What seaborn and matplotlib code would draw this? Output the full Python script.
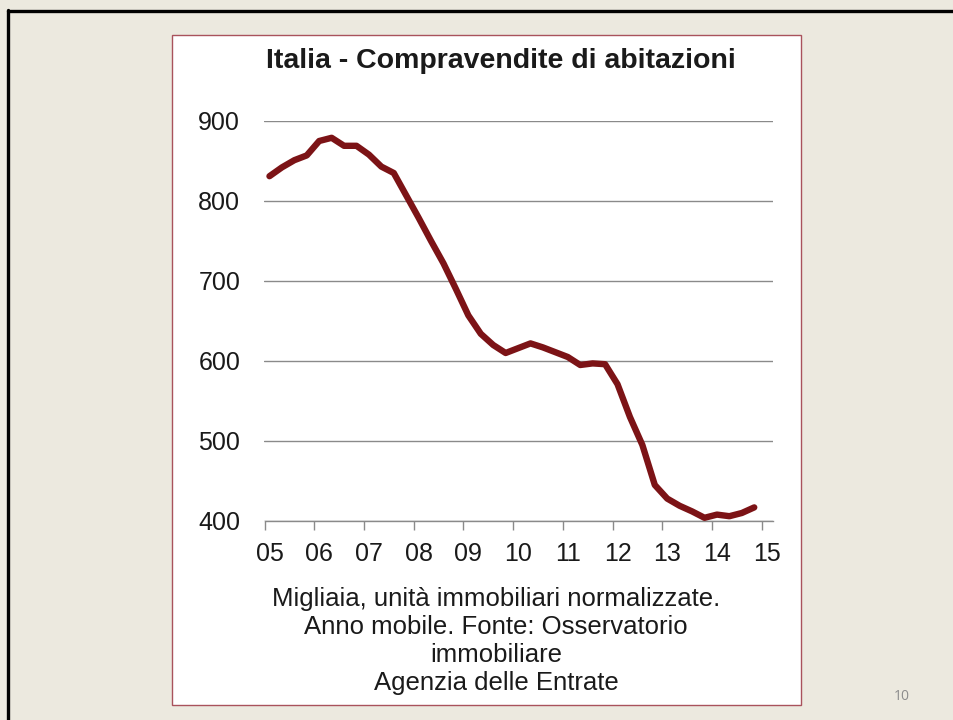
import matplotlib
matplotlib.use("Agg")
import pandas as pd
import matplotlib.pyplot as plt
import matplotlib.patches as patches
import matplotlib.lines as mlines
import seaborn as sns

# ----------------- Dati -----------------
trimestri = pd.period_range("2005Q1", "2014Q4", freq="Q")
compravendite = [831, 842, 851, 857, 875, 879, 869, 869, 858, 843,
                 835, 807, 779, 750, 722, 690, 657, 634, 620, 610,
                 616, 622, 617, 611, 605, 595, 597, 596, 571, 530,
                 495, 445, 428, 419, 412, 404, 408, 406, 410, 417]
anni_tick = list(range(2005, 2016))
valori_y = [400, 500, 600, 700, 800, 900]
titolo = "Italia - Compravendite di abitazioni"
nota = ["Migliaia, unità immobiliari normalizzate.",
        "Anno mobile. Fonte: Osservatorio",
        "immobiliare",
        "Agenzia delle Entrate"]
numero_pagina = "10"

# ----------------- Stile -----------------
sns.set_style("white")
plt.rcParams["font.family"] = ["Liberation Sans", "DejaVu Sans"]

W, H = 954, 720
SFONDO = "#ECE9DF"
ROSSO = "#7C1316"
GRIGIO = "#8A8A8A"

fig = plt.figure(figsize=(W / 100, H / 100), dpi=100, facecolor=SFONDO)

# bordo della slide (nero, in alto e a sinistra)
fig.add_artist(mlines.Line2D([8 / W, 1], [1 - 10.5 / H, 1 - 10.5 / H], color="black", lw=2.4,
                             transform=fig.transFigure, zorder=-2))
fig.add_artist(mlines.Line2D([8.5 / W, 8.5 / W], [1 - 10 / H, 0], color="black", lw=2.4,
                             transform=fig.transFigure, zorder=-2))

# pannello bianco del grafico
fig.add_artist(patches.Rectangle((172 / W, 1 - 705 / H), (801 - 172) / W, (705 - 35) / H,
                                 transform=fig.transFigure, facecolor="white",
                                 edgecolor="#A9525C", lw=1.0, zorder=-1))

# ----------------- Grafico -----------------
x0, x15, xr = 264.5, 761.7, 773
ax = fig.add_axes([x0 / W, 1 - 521 / H, (xr - x0) / W, 400 / H])
ax.set_facecolor("none")
ax.set_zorder(1)

df = pd.DataFrame({
    "x": trimestri.year + (trimestri.quarter - 1) / 4 + 0.1,
    "valore": compravendite,
})
sns.lineplot(data=df, x="x", y="valore", ax=ax, color=ROSSO, linewidth=4.6,
             solid_capstyle="round", solid_joinstyle="round", zorder=3, clip_on=False)

ax.set_xlim(2005, 2015 + (xr - x15) / ((x15 - x0) / 10))
ax.set_ylim(400, 900)
ax.set_xlabel("")
ax.set_ylabel("")

ax.set_yticks(valori_y)
ax.set_yticklabels([str(v) for v in valori_y])
ax.yaxis.grid(True, color=GRIGIO, lw=1.0)
ax.xaxis.grid(False)
ax.set_axisbelow(True)

# tacche agli anni, etichette leggermente spostate a destra
ax.set_xticks(anni_tick)
ax.set_xticklabels([])
ax.set_xticks([a + 0.1 for a in anni_tick], minor=True)
ax.set_xticklabels([f"{a % 100:02d}" for a in anni_tick], minor=True)
ax.tick_params(axis="x", which="major", bottom=True, length=6.5, width=1, color=GRIGIO)
ax.tick_params(axis="x", which="minor", bottom=True, length=0, pad=15, labelsize=18, labelcolor="#1a1a1a")
ax.tick_params(axis="y", left=False, pad=14, labelsize=18, labelcolor="#1a1a1a")

for lato in ["top", "right", "left"]:
    ax.spines[lato].set_visible(False)
ax.spines["bottom"].set_color(GRIGIO)
ax.spines["bottom"].set_linewidth(1)

# ----------------- Testi -----------------
fig.text(501 / W, 1 - 61 / H, titolo, ha="center", va="center", fontsize=20.5,
         fontweight="bold", color="#1a1a1a")
for i, riga in enumerate(nota):
    fig.text(496 / W, 1 - (599 + 28 * i) / H, riga, ha="center", va="center",
             fontsize=18.5, color="#1a1a1a")
fig.text(902 / W, 1 - 697 / H, numero_pagina, ha="center", va="center", fontsize=10,
         color="#8C8C8C", family=["Open Sans", "DejaVu Sans"])

fig.savefig("out.png", dpi=100, facecolor=fig.get_facecolor())
